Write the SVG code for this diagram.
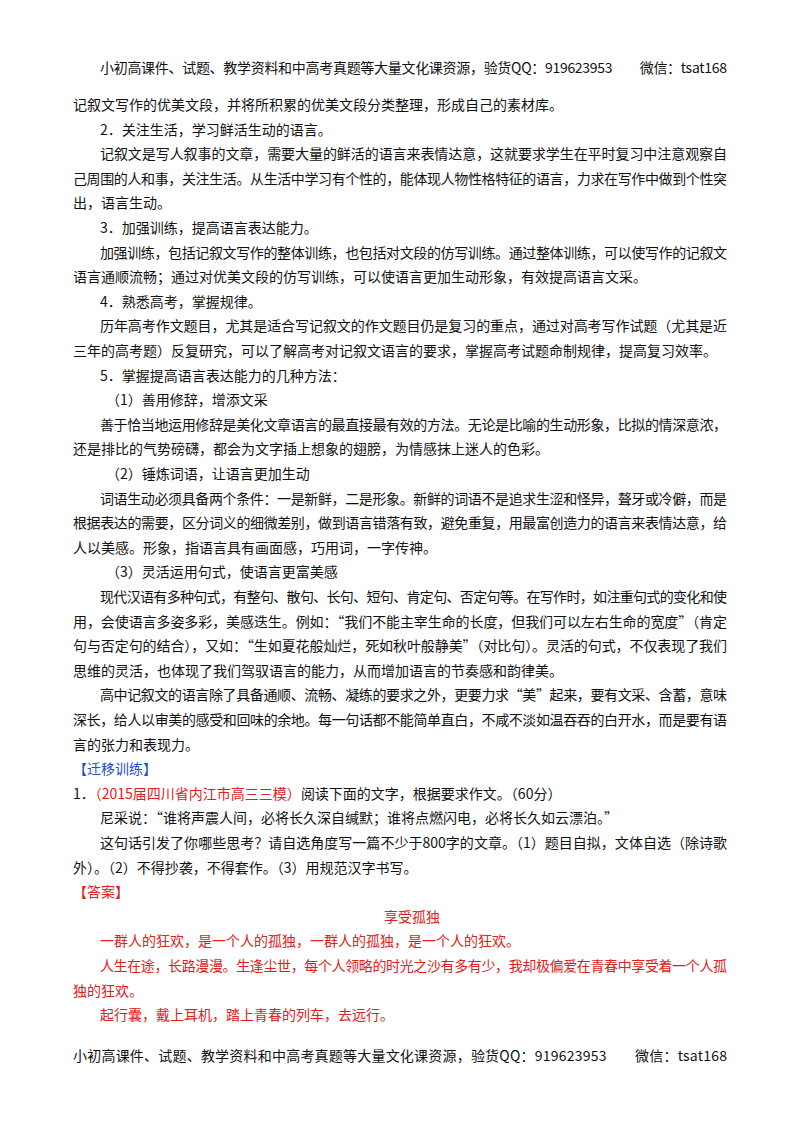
<svg xmlns="http://www.w3.org/2000/svg" width="800" height="1132" viewBox="0 0 800 1132">
<style>
text{font-family:"Noto Sans CJK SC","Noto Sans",sans-serif;font-size:14px;fill:#111}
.r{fill:#e0201b}.b{fill:#1f4fd6}
</style>
<rect width="800" height="1132" fill="#fff"/>
<g id="page">
<text x="100" y="73" textLength="627" lengthAdjust="spacing">小初高课件、试题、教学资料和中高考真题等大量文化课资源，验货QQ：919623953　　微信：tsat168</text>
<text x="73" y="110">记叙文写作的优美文段，并将所积累的优美文段分类整理，形成自己的素材库。</text>
<text x="100" y="134.6">2．关注生活，学习鲜活生动的语言。</text>
<text x="100" y="159.2" textLength="627" lengthAdjust="spacing">记叙文是写人叙事的文章，需要大量的鲜活的语言来表情达意，这就要求学生在平时复习中注意观察自</text>
<text x="73" y="183.8" textLength="654" lengthAdjust="spacing">己周围的人和事，关注生活。从生活中学习有个性的，能体现人物性格特征的语言，力求在写作中做到个性突</text>
<text x="73" y="208.4">出，语言生动。</text>
<text x="100" y="233">3．加强训练，提高语言表达能力。</text>
<text x="100" y="257.6" textLength="627" lengthAdjust="spacing">加强训练，包括记叙文写作的整体训练，也包括对文段的仿写训练。通过整体训练，可以使写作的记叙文</text>
<text x="73" y="282.2">语言通顺流畅；通过对优美文段的仿写训练，可以使语言更加生动形象，有效提高语言文采。</text>
<text x="100" y="306.8">4．熟悉高考，掌握规律。</text>
<text x="100" y="331.4" textLength="627" lengthAdjust="spacing">历年高考作文题目，尤其是适合写记叙文的作文题目仍是复习的重点，通过对高考写作试题（尤其是近</text>
<text x="73" y="356">三年的高考题）反复研究，可以了解高考对记叙文语言的要求，掌握高考试题命制规律，提高复习效率。</text>
<text x="100" y="380.6">5．掌握提高语言表达能力的几种方法：</text>
<text x="106" y="405.2">（1）善用修辞，增添文采</text>
<text x="100" y="429.8" textLength="627" lengthAdjust="spacing">善于恰当地运用修辞是美化文章语言的最直接最有效的方法。无论是比喻的生动形象，比拟的情深意浓，</text>
<text x="73" y="454.4">还是排比的气势磅礴，都会为文字插上想象的翅膀，为情感抹上迷人的色彩。</text>
<text x="106" y="479">（2）锤炼词语，让语言更加生动</text>
<text x="100" y="503.6" textLength="627" lengthAdjust="spacing">词语生动必须具备两个条件：一是新鲜，二是形象。新鲜的词语不是追求生涩和怪异，聱牙或冷僻，而是</text>
<text x="73" y="528.2" textLength="654" lengthAdjust="spacing">根据表达的需要，区分词义的细微差别，做到语言错落有致，避免重复，用最富创造力的语言来表情达意，给</text>
<text x="73" y="552.8">人以美感。形象，指语言具有画面感，巧用词，一字传神。</text>
<text x="106" y="577.4">（3）灵活运用句式，使语言更富美感</text>
<text x="100" y="602" textLength="627" lengthAdjust="spacing">现代汉语有多种句式，有整句、散句、长句、短句、肯定句、否定句等。在写作时，如注重句式的变化和使</text>
<text x="73" y="626.6" textLength="654" lengthAdjust="spacing">用，会使语言多姿多彩，美感迭生。例如：“我们不能主宰生命的长度，但我们可以左右生命的宽度”（肯定</text>
<text x="73" y="651.2" textLength="654" lengthAdjust="spacing">句与否定句的结合），又如：“生如夏花般灿烂，死如秋叶般静美”（对比句）。灵活的句式，不仅表现了我们</text>
<text x="73" y="675.8">思维的灵活，也体现了我们驾驭语言的能力，从而增加语言的节奏感和韵律美。</text>
<text x="100" y="700.4" textLength="627" lengthAdjust="spacing">高中记叙文的语言除了具备通顺、流畅、凝练的要求之外，更要力求“美”起来，要有文采、含蓄，意味</text>
<text x="73" y="725" textLength="654" lengthAdjust="spacing">深长，给人以审美的感受和回味的余地。每一句话都不能简单直白，不咸不淡如温吞吞的白开水，而是要有语</text>
<text x="73" y="749.6">言的张力和表现力。</text>
<text x="73" y="774.2" class="b">【迁移训练】</text>
<text x="73" y="798.8">1．<tspan class="r">（2015届四川省内江市高三三模）</tspan>阅读下面的文字，根据要求作文。（60分）</text>
<text x="100" y="823.4">尼采说：“谁将声震人间，必将长久深自缄默；谁将点燃闪电，必将长久如云漂泊。”</text>
<text x="100" y="848" textLength="627" lengthAdjust="spacing">这句话引发了你哪些思考？请自选角度写一篇不少于800字的文章。（1）题目自拟，文体自选（除诗歌</text>
<text x="73" y="872.6">外）。（2）不得抄袭，不得套作。（3）用规范汉字书写。</text>
<text x="73" y="897.2" class="r">【答案】</text>
<text x="412" y="921.8" class="r" text-anchor="middle">享受孤独</text>
<text x="100" y="946.4" class="r">一群人的狂欢，是一个人的孤独，一群人的孤独，是一个人的狂欢。</text>
<text x="100" y="971" class="r" textLength="627" lengthAdjust="spacing">人生在途，长路漫漫。生逢尘世，每个人领略的时光之沙有多有少，我却极偏爱在青春中享受着一个人孤</text>
<text x="73" y="995.6" class="r">独的狂欢。</text>
<text x="100" y="1020.2" class="r">起行囊，戴上耳机，踏上青春的列车，去远行。</text>
<text x="73" y="1061" textLength="654" lengthAdjust="spacing">小初高课件、试题、教学资料和中高考真题等大量文化课资源，验货QQ：919623953　　微信：tsat168</text>
</g>
</svg>
